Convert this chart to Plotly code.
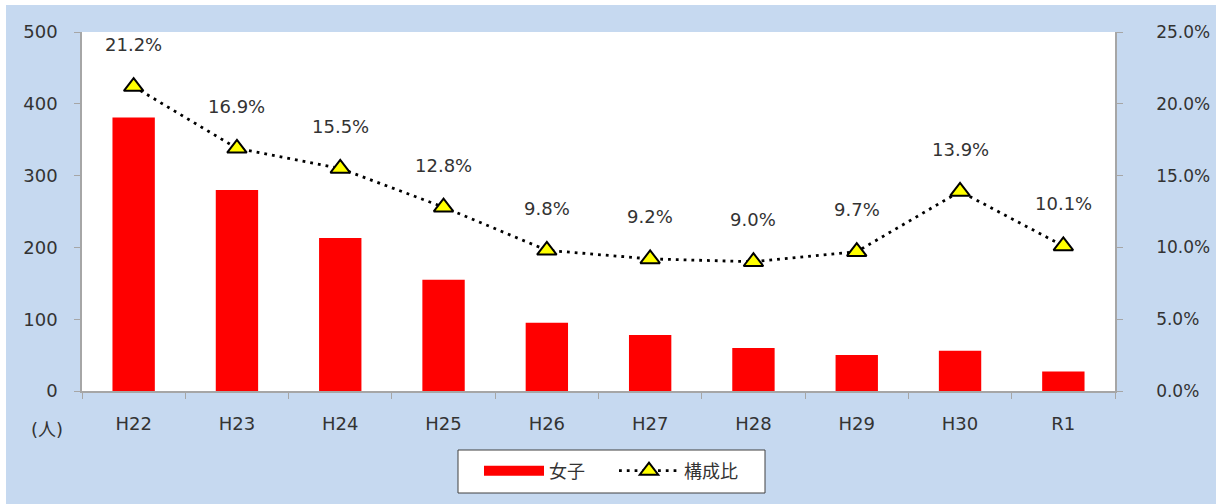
import plotly.graph_objects as go

categories = ["H22", "H23", "H24", "H25", "H26", "H27", "H28", "H29", "H30", "R1"]
girls = [381, 280, 213, 155, 95, 78, 60, 50, 56, 27]
ratio = [21.2, 16.9, 15.5, 12.8, 9.8, 9.2, 9.0, 9.7, 13.9, 10.1]
left_ticks = [0, 100, 200, 300, 400, 500]
right_ticks = [0, 5, 10, 15, 20, 25]

FONT = "DejaVu Sans, Noto Sans CJK JP"
TXT = "#333333"
BG = "#c6d9f0"
AX = "#a6a6a6"
FS = 18

fig = go.Figure()
fig.add_trace(go.Bar(
    x=categories, y=girls, name="女子",
    marker=dict(color="#ff0000", line=dict(width=0)),
    yaxis="y", showlegend=False,
))
# legend entry for bars (wide red swatch like the reference)
fig.add_trace(go.Scatter(
    x=[None], y=[None], name="女子", mode="lines",
    line=dict(color="#ff0000", width=13), showlegend=True,
))
fig.add_trace(go.Scatter(
    x=categories, y=ratio, name="構成比", yaxis="y2",
    mode="lines+markers",
    line=dict(color="#000000", width=2.8, dash="2.8px,5px"),
    marker=dict(symbol="triangle-up", size=17, color="#ffff00",
                line=dict(color="#000000", width=2)),
))

annotations = []
for c, r in zip(categories, ratio):
    annotations.append(dict(
        x=c, y=r, xref="x", yref="y2", text=f"{r:.1f}%",
        showarrow=False, yshift=42,
        font=dict(family=FONT, size=FS, color=TXT),
    ))

L, R, T, B = 82, 101, 32, 113
W, H = 1216, 504
pw, ph = W - L - R, H - T - B


def px(x):
    return (x - L) / pw


def py(y):
    return (H - B - y) / ph


annotations.append(dict(
    x=px(47), y=py(430), xref="paper", yref="paper", text="(人)",
    showarrow=False, xanchor="center", yanchor="middle",
    font=dict(family=FONT, size=FS, color=TXT),
))
shapes = [
    dict(type="rect", xref="paper", yref="paper",
         x0=px(-2), x1=px(W + 2), y0=py(5), y1=py(-2),
         fillcolor="white", line=dict(width=0), layer="below"),
    dict(type="rect", xref="paper", yref="paper",
         x0=px(-2), x1=px(6), y0=py(H + 2), y1=py(-2),
         fillcolor="white", line=dict(width=0), layer="below"),
    # legend box
    dict(type="rect", xref="paper", yref="paper",
         x0=px(458), x1=px(765), y0=py(493), y1=py(450),
         fillcolor="white", line=dict(color="#404040", width=1), layer="above"),
]

right_text = [f"{v:.1f}%" + ("\u2007" if v < 10 else "") for v in right_ticks]

fig.update_layout(
    width=W, height=H,
    margin=dict(l=L, r=R, t=T, b=B, autoexpand=False),
    paper_bgcolor=BG, plot_bgcolor="white",
    font=dict(family=FONT, size=FS, color=TXT),
    bargap=0.59,
    showlegend=True,
    legend=dict(
        orientation="h", x=px(479), xanchor="left",
        y=py(471), yanchor="middle",
        bgcolor="rgba(0,0,0,0)", borderwidth=0,
        font=dict(family=FONT, size=FS, color=TXT),
        itemwidth=60, entrywidthmode="pixels", entrywidth=60,
    ),
    xaxis=dict(
        range=[-0.5, 9.5],
        showline=True, linecolor=AX, linewidth=1.5,
        ticks="outside", tickcolor=AX, ticklen=6, tickson="boundaries",
        ticklabelstandoff=16, automargin=False,
        tickfont=dict(family=FONT, size=FS, color=TXT),
        showgrid=False, zeroline=False,
    ),
    yaxis=dict(
        range=[0, 500], tickvals=left_ticks,
        showline=True, linecolor=AX, linewidth=1.5,
        ticks="outside", tickcolor=AX, ticklen=6,
        ticklabelstandoff=13, automargin=False,
        tickfont=dict(family=FONT, size=FS, color=TXT),
        showgrid=False, zeroline=False,
    ),
    yaxis2=dict(
        range=[0, 25], tickvals=right_ticks, ticktext=right_text,
        overlaying="y", side="right",
        showline=True, linecolor=AX, linewidth=1.5,
        ticks="outside", tickcolor=AX, ticklen=6,
        ticklabelstandoff=30, automargin=False,
        tickfont=dict(family=FONT, size=17, color=TXT),
        showgrid=False, zeroline=False,
    ),
    annotations=annotations,
    shapes=shapes,
)

fig.write_html("out.html", config={"displayModeBar": False},
               post_script="document.body.style.margin='0';")
